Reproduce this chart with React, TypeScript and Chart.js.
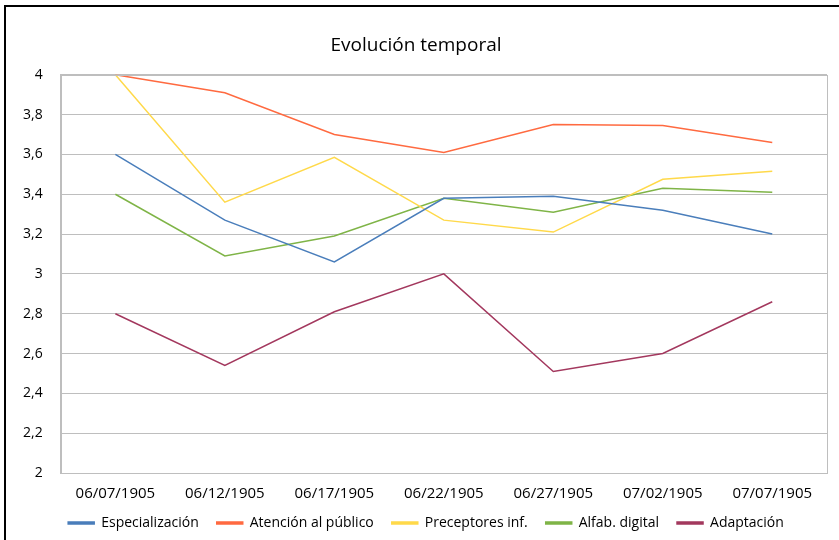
import React, { useEffect, useRef } from "react";
import { Chart, registerables } from "chart.js";

Chart.register(...registerables);

const categories = ["06/07/1905", "06/12/1905", "06/17/1905", "06/22/1905", "06/27/1905", "07/02/1905", "07/07/1905"];
const especializacion = [3.6, 3.27, 3.06, 3.38, 3.39, 3.32, 3.2];
const atencion = [4.0, 3.91, 3.7, 3.61, 3.75, 3.745, 3.66];
const preceptores = [4.0, 3.36, 3.585, 3.27, 3.21, 3.475, 3.515];
const alfabetizacion = [3.4, 3.09, 3.19, 3.38, 3.31, 3.43, 3.41];
const adaptacion = [2.8, 2.54, 2.81, 3.0, 2.51, 2.6, 2.86];

const FONT = "'Open Sans', 'Noto Sans', sans-serif";

const frame = {
  id: "frame",
  afterLayout(chart: any) {
    if (chart.legend) {
      chart.legend.left += 10;
      chart.legend.right += 10;
    }
  },
  afterDraw(chart: any) {
    const { ctx, chartArea } = chart;
    ctx.save();
    ctx.strokeStyle = "#BEBEBE";
    ctx.lineWidth = 1;
    ctx.strokeRect(Math.round(chartArea.left) + 0.5, Math.round(chartArea.top) + 0.5, Math.round(chartArea.right - chartArea.left), Math.round(chartArea.bottom - chartArea.top));
    ctx.restore();
  },
};

export default function App() {
  const ref = useRef<HTMLCanvasElement>(null);
  useEffect(() => {
    const mk = (label: string, data: number[], color: string) => ({
      label, data, borderColor: color, backgroundColor: color, borderWidth: 1.5, pointRadius: 0, tension: 0,
    });
    const chart = new Chart(ref.current!, {
      type: "line",
      data: {
        labels: categories,
        datasets: [
          mk("Especialización", especializacion, "#4A7EBB"),
          mk("Atención al público", atencion, "#FF6A40"),
          mk("Preceptores inf.", preceptores, "#FFD94A"),
          mk("Alfab. digital", alfabetizacion, "#7FB447"),
          mk("Adaptación", adaptacion, "#A3385E"),
        ],
      },
      options: {
        animation: false,
        responsive: false,
        layout: { padding: { left: 5, right: 12, top: 0, bottom: 0 } },
        plugins: {
          title: {
            display: true,
            text: "Evolución temporal",
            color: "#000",
            font: { family: FONT, size: 19, weight: "normal" },
            padding: { top: 34, bottom: 18 },
          },
          legend: {
            position: "bottom",
            labels: {
              boxWidth: 26,
              boxHeight: 2,
              padding: 18,
              color: "#000",
              font: { family: FONT, size: 14 },
            },
          },
          tooltip: { enabled: false },
        },
        scales: {
          x: {
            offset: true,
            grid: { display: false },
            border: { color: "#BEBEBE" },
            ticks: { color: "#000", font: { family: FONT, size: 15 }, maxRotation: 0, padding: 4 },
            afterFit: (scale: any) => {
              scale.height -= 9;
            },
          },
          y: {
            min: 2,
            max: 4,
            grid: { color: "#BEBEBE", drawTicks: false },
            border: { color: "#BEBEBE" },
            ticks: {
              stepSize: 0.2,
              padding: 18,
              color: "#000",
              font: { family: FONT, size: 14 },
              callback: (v: any) => {
                const n = Math.round(Number(v) * 10) / 10;
                return Number.isInteger(n) ? String(n) : n.toFixed(1).replace(".", ",");
              },
            },
          },
        },
      },
      plugins: [frame],
    });
    return () => chart.destroy();
  }, []);
  return (
    <div style={{ position: "absolute", left: 0, top: 0, width: 839, height: 540, background: "#fff", overflow: "hidden" }}>
      <div style={{ position: "absolute", left: 4, top: 5, width: 860, height: 560, border: "2px solid #000", boxSizing: "border-box" }} />
      <canvas ref={ref} width={839} height={540} style={{ position: "absolute", left: 0, top: 0 }} />
    </div>
  );
}
